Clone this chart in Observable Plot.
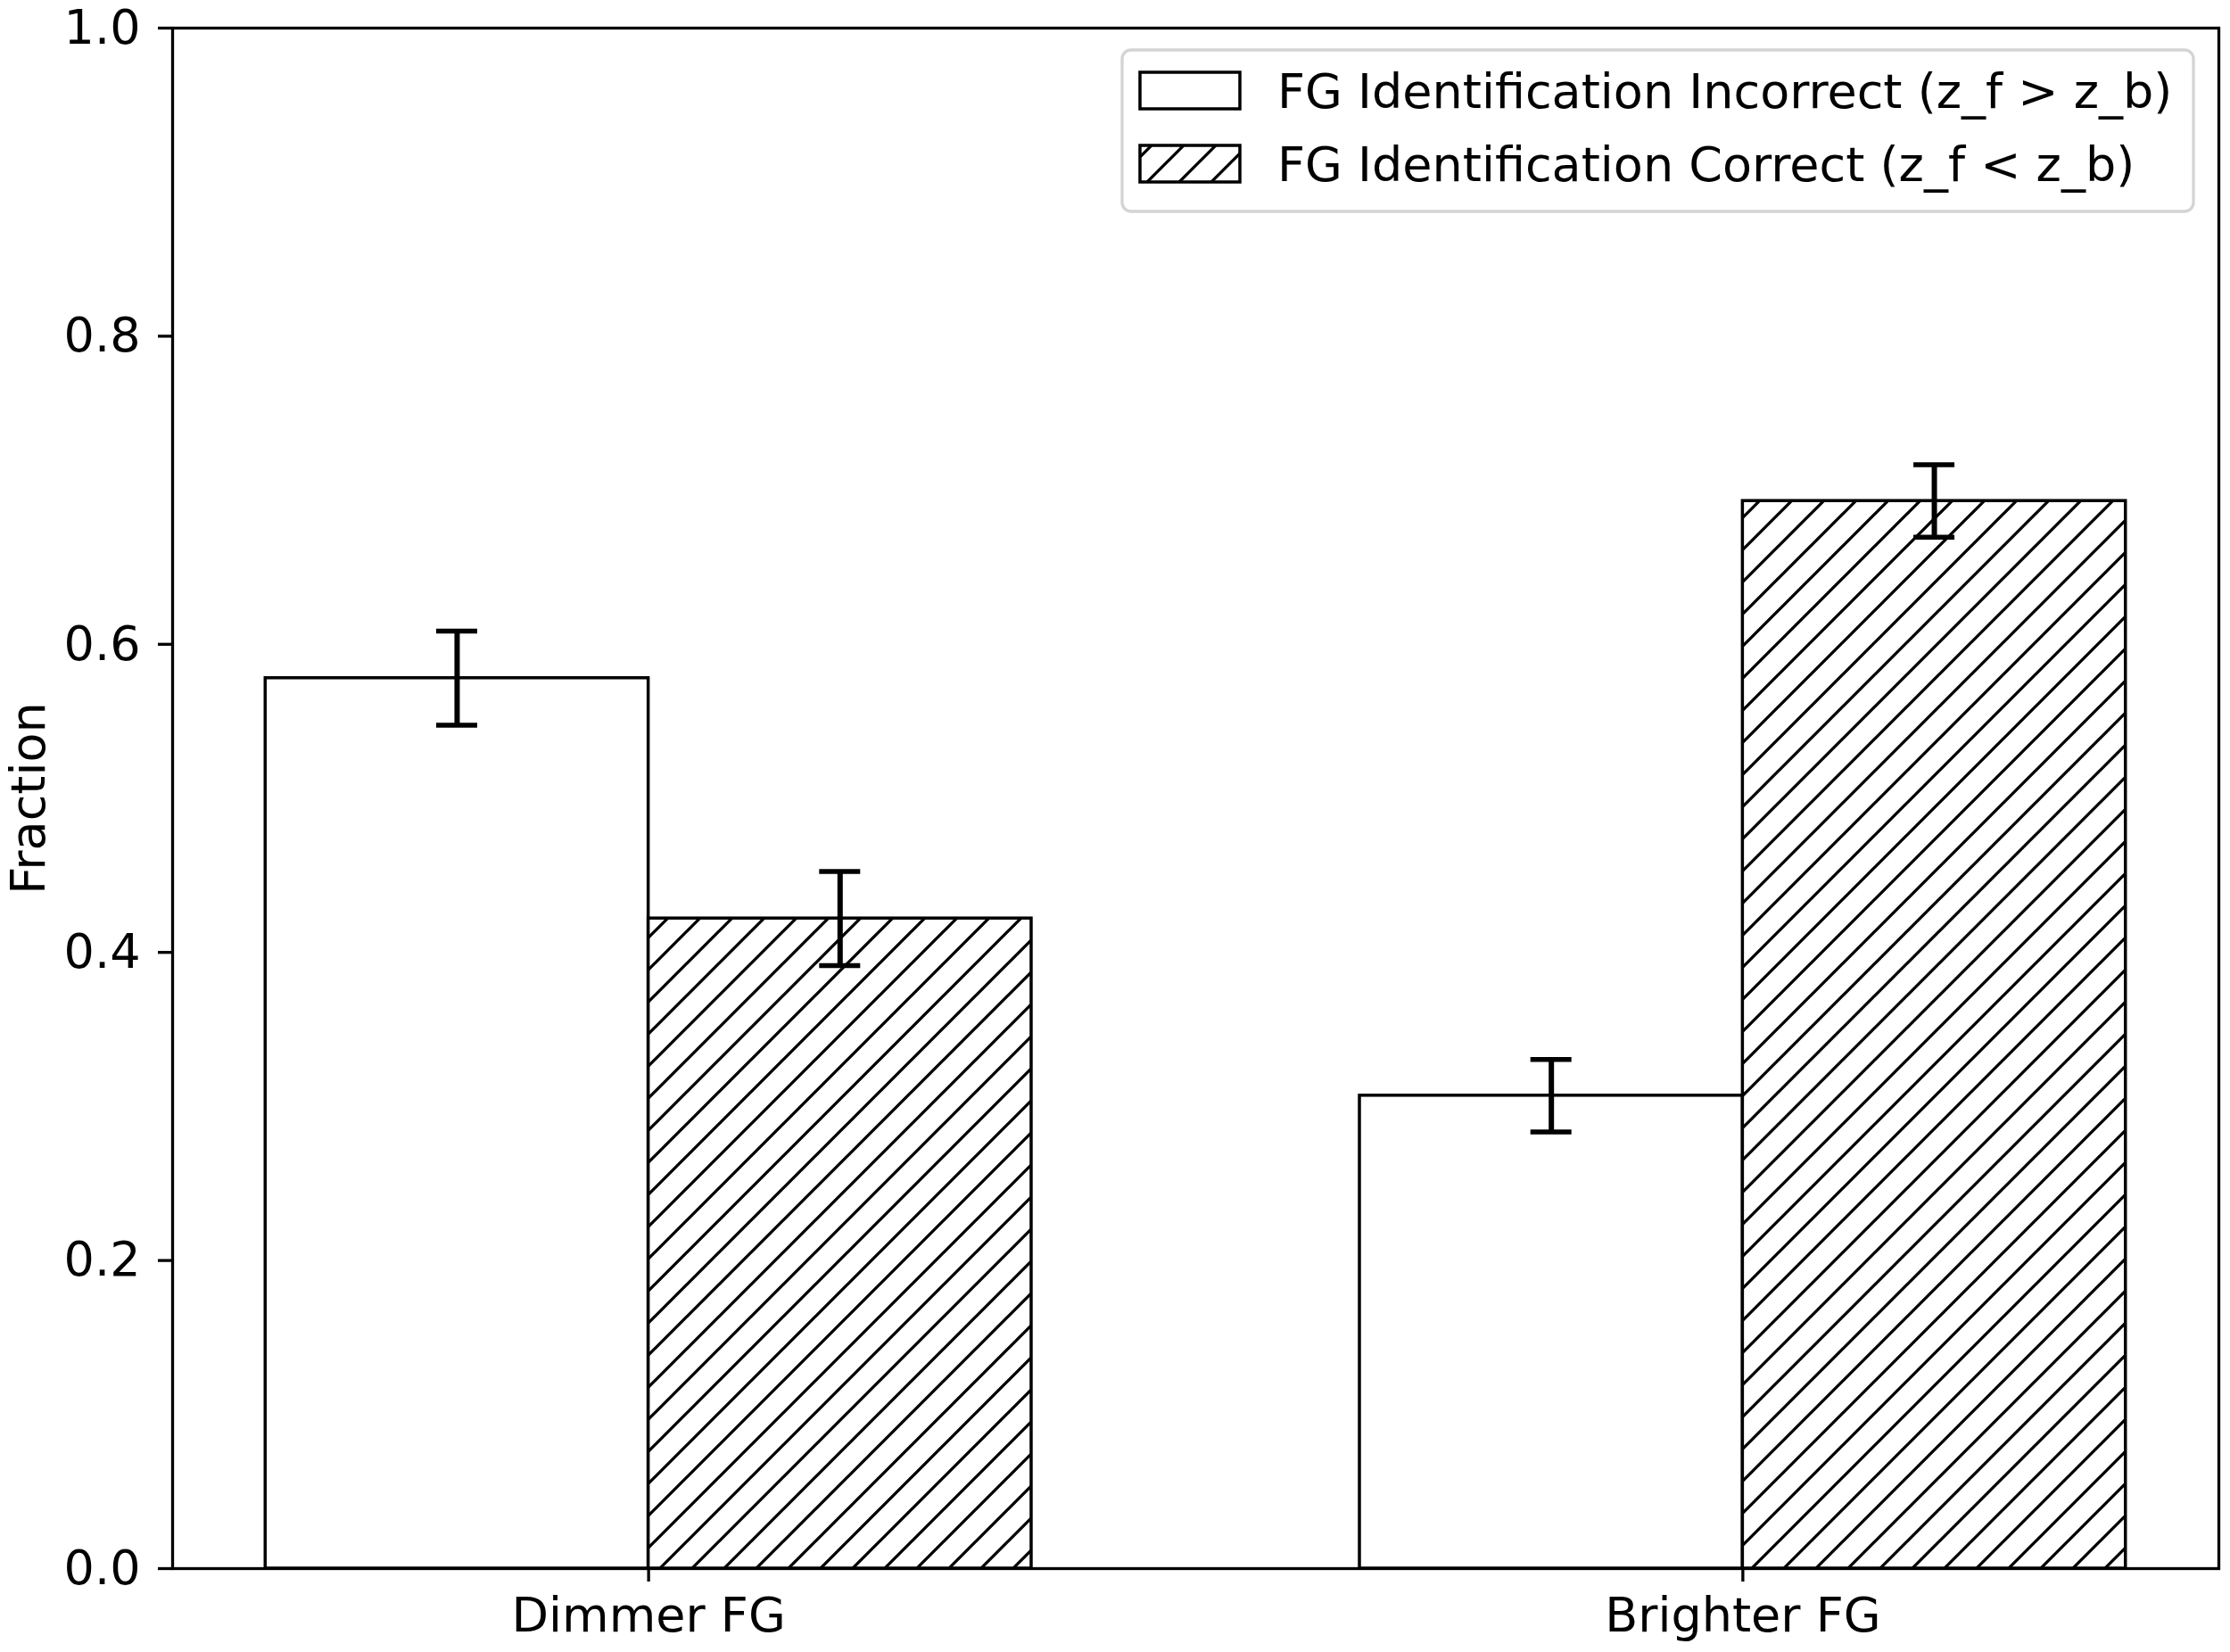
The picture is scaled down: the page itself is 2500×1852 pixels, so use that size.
<!DOCTYPE html>
<html>
<head>
<meta charset="utf-8">
<script src="https://cdn.jsdelivr.net/npm/d3@7"></script>
<script src="https://cdn.jsdelivr.net/npm/@observablehq/plot@0.6"></script>
<style>
  html, body { margin: 0; padding: 0; background: white; }
  #chart { position: relative; width: 2500px; height: 1852px; }
</style>
</head>
<body>
<div id="chart"></div>
<script>
// Fraction of foreground identifications, split by foreground brightness
const categories = ["Dimmer FG", "Brighter FG"];
const seriesNames = [
  "FG Identification Incorrect (z_f > z_b)",
  "FG Identification Correct (z_f < z_b)"
];
const incorrectFrac = [0.578, 0.307];
const correctFrac = [0.422, 0.693];
const incorrectErr = [0.0305, 0.0235];
const correctErr = [0.0305, 0.0235];
const yTicks = [0, 0.2, 0.4, 0.6, 0.8, 1.0];

// Layout
const W = 2500, H = 1852;
const mLeft = 193, mRight = 13, mTop = 31, mBottom = 94;
const barWidth = 0.35;
const xDomain = [-0.435, 1.435];
const pxPerUnit = (W - mLeft - mRight) / (xDomain[1] - xDomain[0]);
const capHalf = 23 / pxPerUnit;
const font = "DejaVu Sans";

// One row per bar: incorrect sits left of the category position, correct right of it
const rows = [];
categories.forEach((c, i) => {
  rows.push({category: c, series: seriesNames[0], value: incorrectFrac[i], err: incorrectErr[i],
             x1: i - barWidth, x2: i, xc: i - barWidth / 2});
  rows.push({category: c, series: seriesNames[1], value: correctFrac[i], err: correctErr[i],
             x1: i, x2: i + barWidth, xc: i + barWidth / 2});
});
const incorrectRows = rows.filter(d => d.series === seriesNames[0]);
const correctRows = rows.filter(d => d.series === seriesNames[1]);

const svg = Plot.plot({
  width: W,
  height: H,
  marginLeft: mLeft,
  marginRight: mRight,
  marginTop: mTop,
  marginBottom: mBottom,
  style: {fontFamily: font, fontSize: "54px", color: "black", background: "white"},
  x: {domain: xDomain},
  y: {domain: [0, 1]},
  marks: [
    Plot.rect(incorrectRows, {x1: "x1", x2: "x2", y1: 0, y2: "value",
      fill: "white", stroke: "black", strokeWidth: 3.5}),
    Plot.rect(correctRows, {x1: "x1", x2: "x2", y1: 0, y2: "value",
      fill: "url(#hatch)", stroke: "black", strokeWidth: 3.5}),
    // error bars with caps
    Plot.ruleX(rows, {x: "xc", y1: d => d.value - d.err, y2: d => d.value + d.err,
      stroke: "black", strokeWidth: 6}),
    Plot.ruleY(rows, {y: d => d.value + d.err, x1: d => d.xc - capHalf, x2: d => d.xc + capHalf,
      stroke: "black", strokeWidth: 5.5}),
    Plot.ruleY(rows, {y: d => d.value - d.err, x1: d => d.xc - capHalf, x2: d => d.xc + capHalf,
      stroke: "black", strokeWidth: 5.5}),
    Plot.axisY({ticks: yTicks, tickFormat: d3.format(".1f"), tickSize: 16, tickPadding: 20,
      strokeWidth: 3.3, label: null}),
    Plot.axisX({ticks: categories.map((c, i) => i), tickFormat: i => categories[i],
      tickSize: 15, tickPadding: 17, strokeWidth: 3.3, label: null}),
    Plot.text(["Fraction"], {text: d => d, frameAnchor: "left", rotate: -90,
      dx: -161, lineAnchor: "middle", textAnchor: "middle", fontSize: 54}),
    Plot.frame({stroke: "black", strokeWidth: 3.3})
  ]
});

// Diagonal hatch used by the "correct" bars and its legend swatch
const defs = d3.create("svg:defs");
const pat = defs.append("pattern")
  .attr("id", "hatch")
  .attr("patternUnits", "userSpaceOnUse")
  .attr("width", 36).attr("height", 36)
  .attr("x", 14).attr("y", 0);
pat.append("rect").attr("width", 36).attr("height", 36).attr("fill", "white");
pat.append("path")
  .attr("d", "M-9,9L9,-9M0,36L36,0M27,45L45,27")
  .attr("stroke", "black").attr("stroke-width", 3.3).attr("fill", "none");
svg.insertBefore(defs.node(), svg.firstChild);

// Legend in the upper right of the axes
const lg = d3.select(svg).append("g")
  .attr("font-family", font).attr("font-size", 54).attr("text-anchor", "start");
lg.append("rect")
  .attr("x", 1258).attr("y", 56).attr("width", 1201).attr("height", 181)
  .attr("rx", 10).attr("ry", 10)
  .attr("fill", "white").attr("fill-opacity", 0.8)
  .attr("stroke", "#d4d4d4").attr("stroke-width", 3.3);
const items = [
  {name: seriesNames[0], fill: "white", top: 81},
  {name: seriesNames[1], fill: "url(#hatch)", top: 163}
];
items.forEach(it => {
  lg.append("rect")
    .attr("x", 1278).attr("y", it.top).attr("width", 112).attr("height", 41)
    .attr("fill", it.fill).attr("stroke", "black").attr("stroke-width", 3.5);
  lg.append("text")
    .attr("x", 1432).attr("y", it.top + 40)
    .attr("text-anchor", "start")
    .attr("fill", "black")
    .text(it.name);
});

document.getElementById("chart").appendChild(svg);
</script>
</body>
</html>
